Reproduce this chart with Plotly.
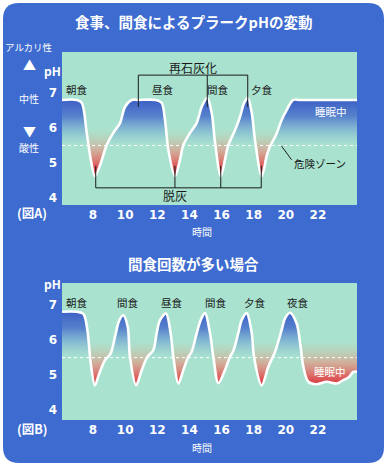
import plotly.graph_objects as go

W, H = 387, 466

# ---------------- data ----------------
hours_A = [6.07, 7.0, 7.3, 7.61, 7.86, 8.12, 8.44, 8.85, 9.26, 9.68, 9.99, 10.41, 10.8,
           11.9, 12.27, 12.48, 12.69, 13.1, 13.41, 13.62, 14.04, 14.45, 14.77, 15.11,
           15.39, 15.6, 15.95, 16.21, 16.42, 16.84, 17.15, 17.4, 17.63, 17.88, 18.08,
           18.5, 18.81, 19.01, 19.39, 19.74, 20.05, 20.46, 20.9, 24.43]
ph_A = [6.8, 6.8, 6.72, 5.86, 5.1, 4.62, 4.94, 5.51, 5.86, 6.14, 6.6, 6.8, 6.8,
        6.8, 6.72, 6.23, 5.37, 4.62, 5.09, 5.51, 5.86, 6.14, 6.61, 6.86,
        6.42, 5.57, 4.62, 5.09, 5.51, 5.94, 6.32, 6.71, 6.86, 6.43, 5.66,
        4.62, 5.2, 5.47, 5.8, 6.23, 6.51, 6.8, 6.8, 6.8]

hours_B = [6.07, 7.0, 7.4, 7.65, 7.86, 8.12, 8.39, 8.75, 9.1, 9.37, 9.64, 9.89, 10.16,
           10.3, 10.68, 11.03, 11.38, 11.75, 11.96, 12.17, 12.54, 12.83, 13.0, 13.31,
           13.62, 13.93, 14.14, 14.45, 14.7, 14.97, 15.28, 15.49, 15.8, 16.21, 16.52,
           16.73, 17.04, 17.25, 17.56, 17.88, 18.02, 18.5, 18.91, 19.33, 19.74, 19.95,
           20.26, 20.67, 20.92, 21.09, 21.4, 21.92, 22.54, 23.17, 23.58, 23.89, 24.2, 24.43]
ph_B = [6.81, 6.81, 6.75, 6.29, 5.33, 4.71, 5.05, 5.43, 5.62, 6.1, 6.57, 6.71, 6.38,
        5.52, 4.71, 5.14, 5.52, 5.71, 6.2, 6.57, 6.76, 6.2, 5.52, 4.76,
        5.14, 5.52, 5.67, 6.19, 6.57, 6.77, 6.2, 5.52, 4.77, 5.14, 5.52,
        5.69, 6.2, 6.57, 6.77, 6.2, 5.52, 4.71, 5.24, 5.67, 6.29, 6.62,
        6.78, 6.48, 5.81, 5.24, 4.81, 4.74, 4.81, 4.76, 4.86, 4.93, 5.09, 5.1]

x_ticks = [8, 10, 12, 14, 16, 18, 20, 22]
y_ticks = [4, 5, 6, 7]
danger_ph = 5.5

meals_A = ["朝食", "昼食", "間食", "夕食"]
meals_B = ["朝食", "間食", "昼食", "間食", "夕食", "夜食"]
remin_hours = [10.82, 15.11, 17.63]      # 再石灰化 bracket
demin_hours = [8.17, 13.1, 15.95, 18.47]  # 脱灰 bracket

# ---------------- styling ----------------
PANEL = "#3d6bcf"
MINT = "#a9e2cf"
JP = "Noto Sans CJK JP"
xr = [6.07, 24.43]
yrA = [3.8, 8.17]
yrB = [3.72, 7.63]


def P(px, py):
    return px / W, 1 - py / H


red_cs = [[0, "rgba(212,30,42,1)"], [0.25, "rgba(226,85,85,0.92)"],
          [0.55, "rgba(232,145,125,0.62)"], [0.8, "rgba(215,180,150,0.3)"],
          [1, "rgba(200,210,180,0)"]]
blue_cs = [[0, "rgba(120,170,215,0)"], [0.3, "rgba(100,150,212,0.45)"],
           [0.62, "rgba(72,112,204,0.85)"], [1, "rgba(58,92,196,1)"]]

fig = go.Figure()


def add_curve(hx, hy, xa, ya):
    common = dict(xaxis=xa, yaxis=ya, showlegend=False, hoverinfo="skip")
    sp = dict(shape="spline", smoothing=0.9)
    fig.add_trace(go.Scatter(x=[xr[0], xr[1]], y=[6.0, 6.0], mode="lines",
                             line=dict(width=0), **common))
    fig.add_trace(go.Scatter(x=hx, y=hy, mode="lines", line=dict(width=0, **sp),
                             fill="tonexty",
                             fillgradient=dict(type="vertical", start=4.6, stop=6.0,
                                               colorscale=red_cs), **common))
    fig.add_trace(go.Scatter(x=hx, y=hy, mode="lines", line=dict(width=0, **sp),
                             fill="tozeroy",
                             fillgradient=dict(type="vertical", start=5.5, stop=6.85,
                                               colorscale=blue_cs), **common))
    fig.add_trace(go.Scatter(x=hx, y=hy, mode="lines",
                             line=dict(width=2.6, color="white", **sp), **common))


add_curve(hours_A, ph_A, "x", "y")
add_curve(hours_B, ph_B, "x2", "y2")

tickfont = dict(family="DejaVu Sans", size=12, color="white", weight="bold")
xd = [62 / W, 357 / W]
yA = [1 - 205 / H, 1 - 52 / H]
yB = [1 - 420 / H, 1 - 283 / H]

axx = dict(range=xr, tickvals=x_ticks, showgrid=False, zeroline=False, showline=False,
           ticks="", tickfont=tickfont, ticklabelstandoff=1, fixedrange=True)
axy = dict(tickvals=y_ticks, showgrid=False, zeroline=False, showline=False, ticks="",
           tickfont=tickfont, ticklabelstandoff=4, fixedrange=True)

fig.update_layout(
    width=W, height=H, margin=dict(l=0, r=0, t=0, b=0),
    paper_bgcolor="white", plot_bgcolor="rgba(0,0,0,0)",
    xaxis=dict(domain=xd, anchor="y", **axx),
    yaxis=dict(domain=yA, range=yrA, anchor="x", **axy),
    xaxis2=dict(domain=xd, anchor="y2", **axx),
    yaxis2=dict(domain=yB, range=yrB, anchor="x2", **axy),
)

# panel with rounded corners
x0, y0 = P(3, 463)
x1, y1 = P(384, 3)
rx, ry = 16 / W, 16 / H
path = (f"M {x0+rx} {y0} L {x1-rx} {y0} Q {x1} {y0} {x1} {y0+ry} "
        f"L {x1} {y1-ry} Q {x1} {y1} {x1-rx} {y1} L {x0+rx} {y1} "
        f"Q {x0} {y1} {x0} {y1-ry} L {x0} {y0+ry} Q {x0} {y0} {x0+rx} {y0} Z")
shapes = [dict(type="path", path=path, xref="paper", yref="paper", fillcolor=PANEL,
               line=dict(width=0), layer="below")]
for dom in (yA, yB):
    shapes.append(dict(type="rect", xref="paper", yref="paper", x0=xd[0], x1=xd[1],
                       y0=dom[0], y1=dom[1], fillcolor=MINT, line=dict(width=0),
                       layer="below"))
# danger lines
for xa, ya in (("x", "y"), ("x2", "y2")):
    shapes.append(dict(type="line", xref=xa, yref=ya, x0=xr[0], x1=xr[1], y0=danger_ph,
                       y1=danger_ph, line=dict(color="white", width=1, dash="dot"),
                       layer="above"))
blk = dict(color="#1a1a1a", width=1)
# 再石灰化 bracket
shapes.append(dict(type="line", xref="x", yref="y", x0=remin_hours[0], x1=remin_hours[-1],
                   y0=7.51, y1=7.51, line=blk))
for h in remin_hours:
    shapes.append(dict(type="line", xref="x", yref="y", x0=h, x1=h, y0=7.51, y1=6.6, line=blk))
# 脱灰 bracket
shapes.append(dict(type="line", xref="x", yref="y", x0=demin_hours[0], x1=demin_hours[-1],
                   y0=4.29, y1=4.29, line=blk))
for h in demin_hours:
    shapes.append(dict(type="line", xref="x", yref="y", x0=h, x1=h, y0=4.92, y1=4.29, line=blk))
# 危険ゾーン leader
shapes.append(dict(type="line", xref="x", yref="y", x0=19.74, x1=20.36, y0=5.48, y1=5.09,
                   line=blk))
fig.update_layout(shapes=shapes)

ann = []


def txt(text, x, y, size, color="white", bold=False, xref="paper", yref="paper"):
    if xref == "paper":
        x, y = P(x, y)
    ann.append(dict(text=text, x=x, y=y, xref=xref, yref=yref, showarrow=False,
                    font=dict(family=JP, size=size, color=color,
                              weight="bold" if bold else "normal"),
                    xanchor="center", yanchor="middle"))


txt("食事、間食によるプラークpHの変動", 193, 21, 14.5, bold=True)
txt("間食回数が多い場合", 193, 263, 14.5, bold=True)
txt("アルカリ性", 29, 47, 9.5)
txt("▲", 29, 64, 13)
txt("pH", 52, 71, 12, bold=True)
txt("中性", 29, 98, 10)
txt("▼", 29, 130, 13)
txt("酸性", 29, 147, 10)
txt("(図A)", 32, 212, 12.5, bold=True)
txt("時間", 202, 231, 10)
txt("pH", 52, 283, 12, bold=True)
txt("(図B)", 32, 428, 12.5, bold=True)
txt("時間", 202, 447, 10)

for m, hx in zip(meals_A, [7.0, 12.36, 15.78, 18.52]):
    txt(m, hx, 7.11, 10.5, color="#1a1a1a", xref="x", yref="y")
txt("再石灰化", 14.22, 7.74, 12, color="#1a1a1a", xref="x", yref="y")
txt("脱灰", 13.1, 4.06, 12, color="#1a1a1a", xref="x", yref="y")
txt("睡眠中", 22.81, 6.46, 10.5, xref="x", yref="y")
txt("危険ゾーン", 22.1, 4.99, 10.5, color="#1a1a1a", xref="x", yref="y")

for m, hx in zip(meals_B, [7.0, 10.18, 12.92, 15.65, 18.08, 20.76]):
    txt(m, hx, 7.06, 10.5, color="#1a1a1a", xref="x2", yref="y2")
txt("睡眠中", 22.75, 5.11, 10.5, xref="x2", yref="y2")

fig.update_layout(annotations=ann)

fig.write_html("out.html", config={"displayModeBar": False},
               post_script="document.body.style.margin='0';")
